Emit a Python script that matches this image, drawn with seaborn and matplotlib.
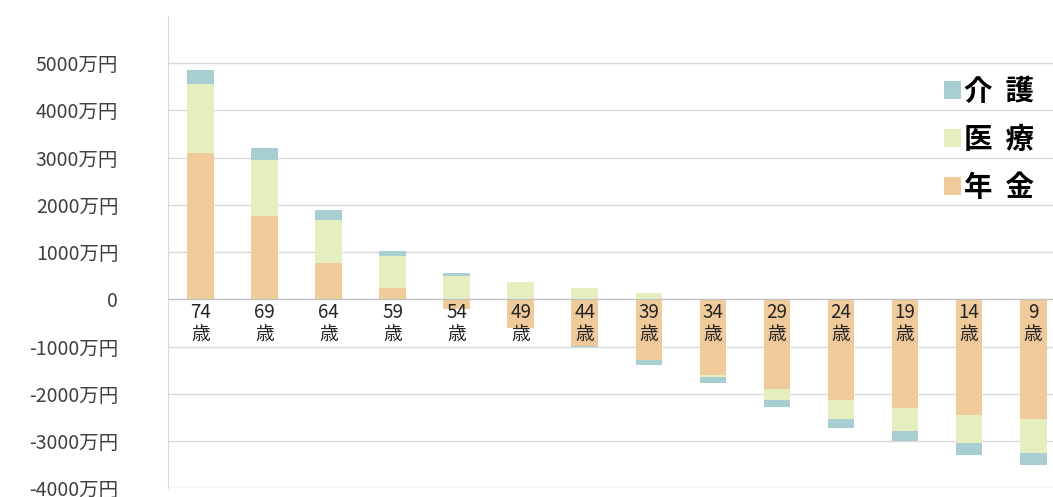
import numpy as np
import pandas as pd
import matplotlib
matplotlib.use("Agg")
import matplotlib.pyplot as plt
from matplotlib.patches import Patch
import seaborn as sns

# ages (category order, left to right)
ages = [74, 69, 64, 59, 54, 49, 44, 39, 34, 29, 24, 19, 14, 9]
# values in 万円
nenkin = [3100, 1760, 770, 240, -200, -600, -990, -1290, -1610, -1890, -2140, -2310, -2450, -2530]
iryo = [1450, 1190, 920, 670, 500, 370, 250, 130, -40, -230, -400, -470, -600, -720]
kaigo = [300, 260, 200, 120, 60, 0, -20, -90, -130, -160, -180, -210, -240, -260]

series_names = ["年金", "医療", "介護"]
legend_labels = {"年金": "年  金", "医療": "医  療", "介護": "介  護"}
colors = {"年金": "#EFCA9B", "医療": "#E5EEBF", "介護": "#A8CED2"}
yticks = [-4000, -3000, -2000, -1000, 0, 1000, 2000, 3000, 4000, 5000]

sns.set_style("white")
plt.rcParams["font.family"] = ["Noto Sans CJK JP", "DejaVu Sans"]

df = pd.DataFrame({"age": [f"{a}歳" for a in ages],
                   "年金": nenkin, "医療": iryo, "介護": kaigo})
order = list(df["age"])

fig = plt.figure(figsize=(10.53, 4.97), dpi=100)
ax = fig.add_axes([168.3 / 1053, 8.7 / 497, 897 / 1053, 472.3 / 497])

# stack positives upward and negatives downward from zero
pos = np.zeros(len(df))
neg = np.zeros(len(df))
for name in series_names:
    vals = df[name].to_numpy(dtype=float)
    bottom = np.where(vals >= 0, pos, neg)
    sns.barplot(x=df["age"], y=vals, order=order, bottom=bottom,
                color=colors[name], saturation=1, width=0.415,
                errorbar=None, linewidth=0, ax=ax)
    pos = pos + np.where(vals >= 0, vals, 0)
    neg = neg + np.where(vals < 0, vals, 0)

ax.set_xlim(-0.5, len(ages) - 0.5)
ax.set_ylim(-4000, 6000)
ax.set_yticks(yticks)
ax.set_yticklabels(["0" if v == 0 else f"{v}万円" for v in yticks])
ax.set_xlabel("")
ax.set_ylabel("")

ax.set_axisbelow(True)
ax.yaxis.grid(True, color="#d9d9d9", linewidth=1)
ax.tick_params(axis="y", length=7, width=1, color="#d9d9d9", pad=29,
               labelsize=14, labelcolor="#404040")

for s in ["top", "right"]:
    ax.spines[s].set_visible(False)
ax.spines["left"].set_color("#d9d9d9")
ax.spines["bottom"].set_position(("data", 0))
ax.spines["bottom"].set_color("#bfbfbf")

# category labels on the zero line, ticks between categories
ax.set_xticks(np.arange(len(ages)))
ax.set_xticklabels([])
ax.tick_params(axis="x", which="major", length=0)
ax.set_xticks(np.arange(-0.5, len(ages), 1), minor=True)
ax.tick_params(axis="x", which="minor", length=4, color="#bfbfbf")
for i, a in enumerate(ages):
    ax.annotate(f"{a}\n歳", (i, 0), xytext=(0, -2), textcoords="offset points",
                ha="center", va="top", fontsize=13.5, color="#262626",
                linespacing=1.05, zorder=5)

handles = [Patch(facecolor=colors[n], edgecolor="none") for n in ["介護", "医療", "年金"]]
leg = ax.legend(handles, [legend_labels[n] for n in ["介護", "医療", "年金"]],
                loc="upper left", bbox_to_anchor=(944 / 1053, 1 - 78 / 497),
                bbox_transform=fig.transFigure, frameon=False,
                prop={"size": 20.5, "weight": "bold"},
                handlelength=0.6, handleheight=0.6, handletextpad=0.12,
                labelspacing=0.7, borderaxespad=0, borderpad=0)
for t in leg.get_texts():
    t.set_color("black")

fig.savefig("out.png", dpi=100)
